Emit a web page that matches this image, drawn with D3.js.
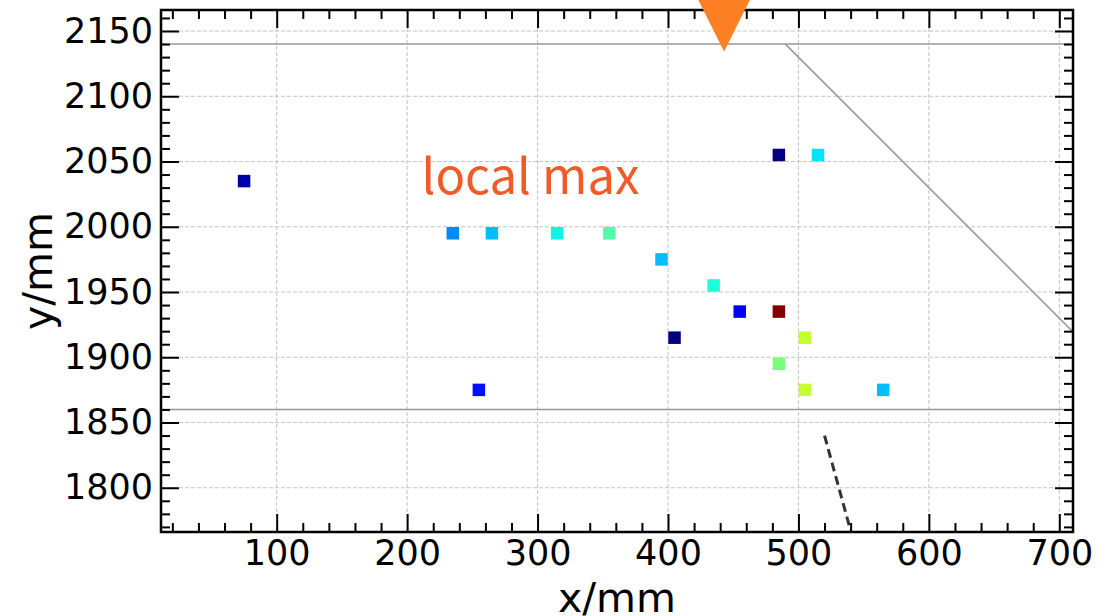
<!DOCTYPE html>
<html>
<head>
<meta charset="utf-8">
<script src="https://cdn.jsdelivr.net/npm/d3@7"></script>
<style>
  html, body { margin: 0; padding: 0; background: #fff; }
  svg { display: block; }
</style>
</head>
<body>
<div id="chart"></div>
<script>
// ---------------- data ----------------
const pointX = [75, 235, 265, 315, 355, 395, 435, 455, 405, 485, 485, 515, 505, 485, 505, 255, 565];
const pointY = [2035, 1995, 1995, 1995, 1995, 1975, 1955, 1935, 1915, 1935, 2055, 2055, 1915, 1895, 1875, 1875, 1875];
const pointV = [0.035, 0.26, 0.31, 0.365, 0.443, 0.31, 0.385, 0.12, 0.0, 1.0, 0.0, 0.35, 0.59, 0.50, 0.59, 0.14, 0.31];

const hLinesY = [2140, 1860];
const diagX = [490, 720];
const diagY = [2140, 1910];
const dashX = [520, 545];
const dashY = [1840, 1749];
const peakX = [443];
const peakY = [2155];
const annotation = { text: "local max", x: 211, y: 2025 };

const xTicks = [100, 200, 300, 400, 500, 600, 700];
const yTicks = [1800, 1850, 1900, 1950, 2000, 2050, 2100, 2150];
const xDomain = [11.3, 710.5];
const yDomain = [1766.1, 2166.1];

// ---------------- layout ----------------
const W = 1115, H = 616;
const L = 161, R = 1073, T = 10, B = 532;

const x = d3.scaleLinear().domain(xDomain).range([L, R]);
const y = d3.scaleLinear().domain(yDomain).range([B, T]);

// jet colormap (matplotlib segment data)
function seg(pts, v) {
  for (let i = 0; i < pts.length - 1; i++) {
    const [a, va] = pts[i], [b, vb] = pts[i + 1];
    if (v >= a && v <= b) return va + (vb - va) * (v - a) / (b - a);
  }
  return pts[pts.length - 1][1];
}
function jet(v) {
  const r = seg([[0,0],[0.35,0],[0.66,1],[0.89,1],[1,0.5]], v);
  const g = seg([[0,0],[0.125,0],[0.375,1],[0.64,1],[0.91,0],[1,0]], v);
  const b = seg([[0,0.5],[0.11,1],[0.34,1],[0.65,0],[1,0]], v);
  return d3.rgb(r * 255, g * 255, b * 255).formatHex();
}

const svg = d3.select("#chart").append("svg").attr("width", W).attr("height", H);

svg.append("defs").append("clipPath").attr("id", "plotclip")
  .append("rect").attr("x", L).attr("y", T).attr("width", R - L).attr("height", B - T);

// grid
const grid = svg.append("g");
grid.selectAll(".gx").data(xTicks).join("line")
  .attr("x1", d => x(d)).attr("x2", d => x(d)).attr("y1", T).attr("y2", B)
  .attr("stroke", "#c4c4c4").attr("stroke-width", 1).attr("stroke-dasharray", "4,2");
grid.selectAll(".gy").data(yTicks).join("line")
  .attr("x1", L).attr("x2", R).attr("y1", d => y(d)).attr("y2", d => y(d))
  .attr("stroke", "#c4c4c4").attr("stroke-width", 1).attr("stroke-dasharray", "4,2");

const plot = svg.append("g").attr("clip-path", "url(#plotclip)");

// horizontal reference lines
plot.selectAll(".hl").data(hLinesY).join("line")
  .attr("x1", L).attr("x2", R).attr("y1", d => y(d)).attr("y2", d => y(d))
  .attr("stroke", "#999").attr("stroke-width", 1.6);

const lineGen = d3.line().x(d => x(d[0])).y(d => y(d[1]));
plot.append("path").datum(d3.zip(diagX, diagY)).attr("d", lineGen)
  .attr("fill", "none").attr("stroke", "#999").attr("stroke-width", 1.6);
plot.append("path").datum(d3.zip(dashX, dashY)).attr("d", lineGen)
  .attr("fill", "none").attr("stroke", "#333").attr("stroke-width", 3)
  .attr("stroke-dasharray", "9,5");

// points
const sq = 12.5;
plot.selectAll(".pt").data(d3.range(pointX.length)).join("rect")
  .attr("x", i => x(pointX[i]) - sq / 2).attr("y", i => y(pointY[i]) - sq / 2)
  .attr("width", sq).attr("height", sq)
  .attr("fill", i => jet(pointV[i]));

// annotation text
svg.append("text").attr("x", x(annotation.x)).attr("y", y(annotation.y))
  .attr("font-family", "'Noto Sans CJK SC', 'Noto Sans', sans-serif")
  .attr("font-size", 49).attr("fill", "#f15a29").text(annotation.text);

// axes
const tickFont = "'DejaVu Sans', sans-serif";
function styleAxis(g) {
  g.select(".domain").remove();
  g.selectAll(".tick line").attr("stroke", "#000").attr("stroke-width", 2);
  g.selectAll(".tick text").attr("font-family", tickFont).attr("font-size", 35).attr("fill", "#000");
}
const xMinor = d3.range(20, 711, 20).filter(v => v % 100 !== 0);
const yMinor = d3.range(1770, 2166, 10).filter(v => v % 50 !== 0);

svg.append("g").attr("transform", `translate(0,${B})`)
  .call(d3.axisBottom(x).tickValues(xTicks).tickFormat(d3.format("d")).tickSizeInner(-18).tickSizeOuter(0).tickPadding(8))
  .call(styleAxis);
svg.append("g").attr("transform", `translate(0,${B})`)
  .call(d3.axisBottom(x).tickValues(xMinor).tickFormat("").tickSizeInner(-9).tickSizeOuter(0))
  .call(styleAxis);
svg.append("g").attr("transform", `translate(0,${T})`)
  .call(d3.axisTop(x).tickValues(xTicks).tickFormat("").tickSizeInner(-18).tickSizeOuter(0))
  .call(styleAxis);
svg.append("g").attr("transform", `translate(0,${T})`)
  .call(d3.axisTop(x).tickValues(xMinor).tickFormat("").tickSizeInner(-9).tickSizeOuter(0))
  .call(styleAxis);

svg.append("g").attr("transform", `translate(${L},0)`)
  .call(d3.axisLeft(y).tickValues(yTicks).tickFormat(d3.format("d")).tickSizeInner(-18).tickSizeOuter(0).tickPadding(8))
  .call(styleAxis);
svg.append("g").attr("transform", `translate(${L},0)`)
  .call(d3.axisLeft(y).tickValues(yMinor).tickFormat("").tickSizeInner(-9).tickSizeOuter(0))
  .call(styleAxis);
svg.append("g").attr("transform", `translate(${R},0)`)
  .call(d3.axisRight(y).tickValues(yTicks).tickFormat("").tickSizeInner(-18).tickSizeOuter(0))
  .call(styleAxis);
svg.append("g").attr("transform", `translate(${R},0)`)
  .call(d3.axisRight(y).tickValues(yMinor).tickFormat("").tickSizeInner(-9).tickSizeOuter(0))
  .call(styleAxis);

// frame
svg.append("rect").attr("x", L).attr("y", T).attr("width", R - L).attr("height", B - T)
  .attr("fill", "none").attr("stroke", "#000").attr("stroke-width", 2.5);

// peak marker (drawn unclipped, over the frame)
const tri = 27;
svg.selectAll(".peak").data(d3.range(peakX.length)).join("path")
  .attr("d", i => {
    const cx = x(peakX[i]), cy = y(peakY[i]);
    return `M${cx - tri},${cy - tri}L${cx + tri},${cy - tri}L${cx},${cy + tri}Z`;
  })
  .attr("fill", "#fd8024");

// axis labels
svg.append("text").attr("x", (L + R) / 2).attr("y", 612).attr("text-anchor", "middle")
  .attr("font-family", tickFont).attr("font-size", 41).attr("fill", "#000").text("x/mm");
svg.append("text").attr("transform", `translate(52,${(T + B) / 2}) rotate(-90)`)
  .attr("text-anchor", "middle")
  .attr("font-family", tickFont).attr("font-size", 41).attr("fill", "#000").text("y/mm");
</script>
</body>
</html>
